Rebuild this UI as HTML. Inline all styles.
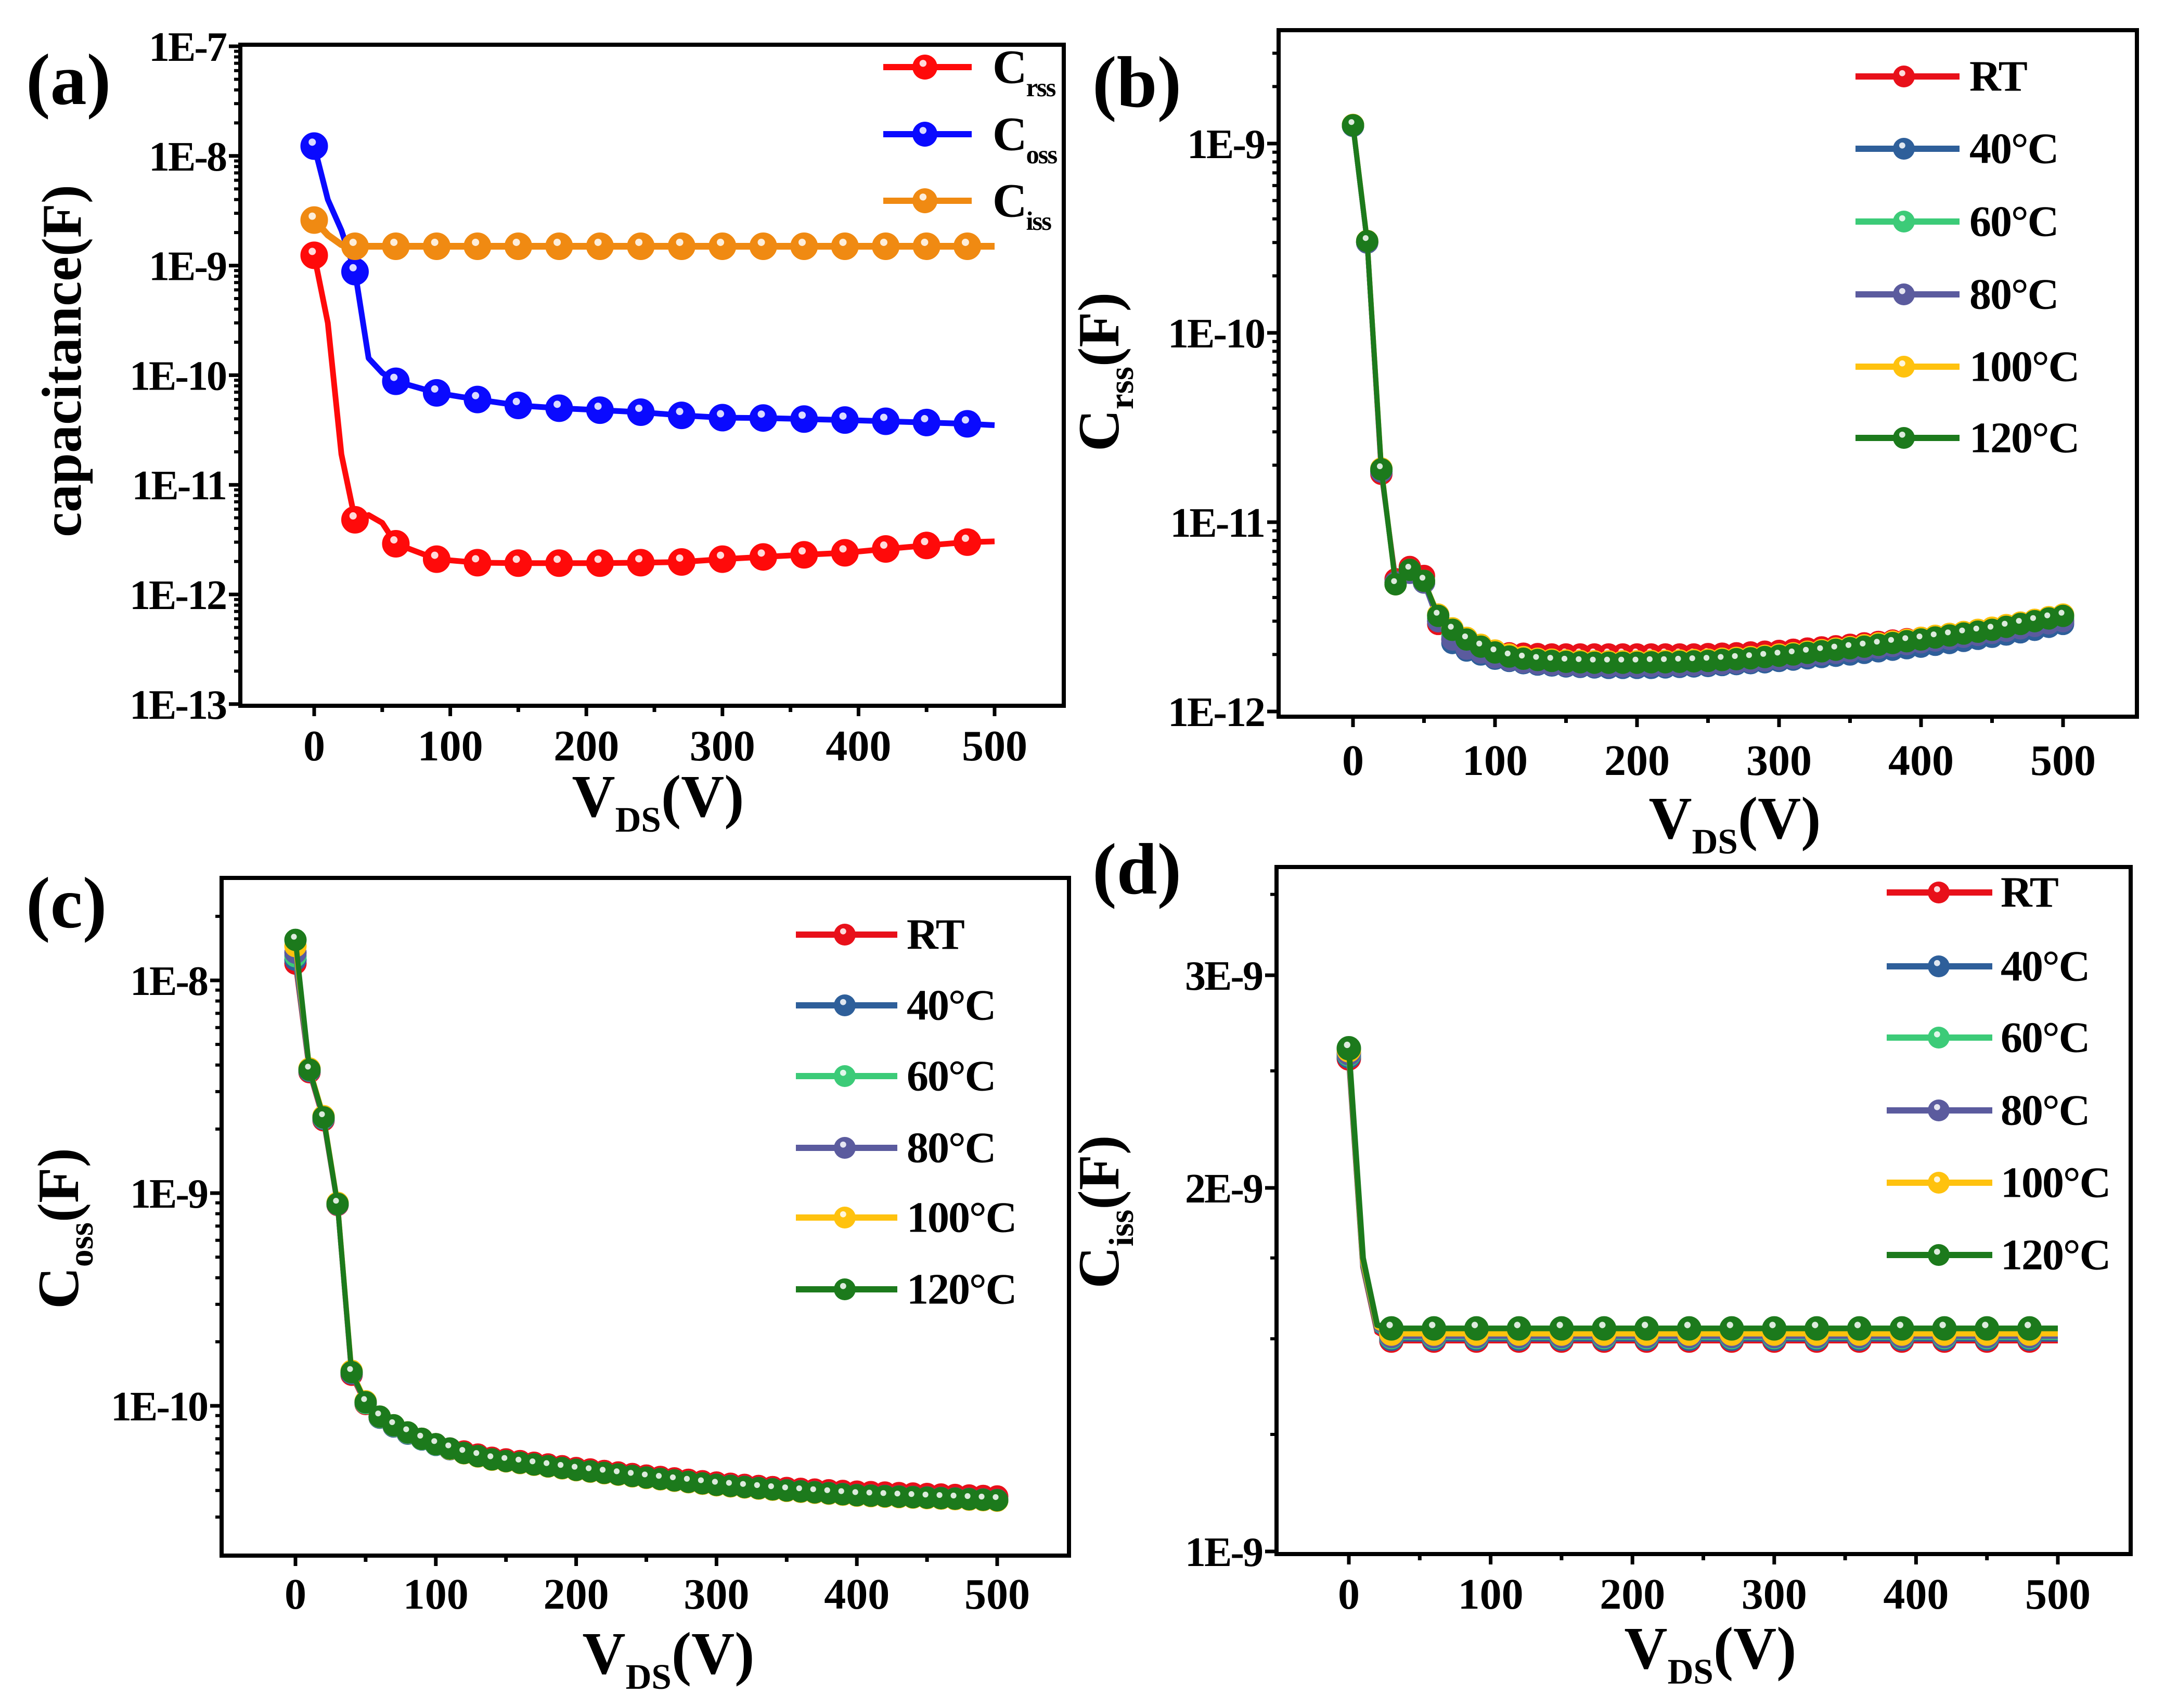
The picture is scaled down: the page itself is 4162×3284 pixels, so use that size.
<!DOCTYPE html>
<html><head><meta charset="utf-8"><style>
html,body{margin:0;padding:0;background:#fff}
svg{display:block}
text{font-family:"Liberation Serif","Times New Roman",serif;font-weight:bold;fill:#000}
</style></head><body>
<svg id="fig" width="4162" height="3284" viewBox="0 0 4162 3284" xmlns="http://www.w3.org/2000/svg">
<rect x="0" y="0" width="4162" height="3284" fill="#fff"/>
</svg>
<script>
// ---------- data (values in pF) ----------
const aX = [0,10,20,30,40,50,60,90,120,150,180,210,240,270,300,330,360,390,420,450,480,500];
const aCrss = [1240,300,19,4.8,5.3,4.5,2.9,2.1,1.95,1.93,1.93,1.93,1.95,1.98,2.1,2.2,2.3,2.4,2.6,2.8,3.0,3.05];
const aCoss = [12300,4000,2100,880,143,105,88,69,60,53,50,48,46,43,41,40.7,39.8,39,38,37,36,35];
const aCiss = [2600,1900,1550,1500,1500,1500,1500,1500,1500,1500,1500,1500,1500,1500,1500,1500,1500,1500,1500,1500,1500,1500];

const bX = [0,10,20,30,40,50,60,70,80,90,100,110,120,130,140,150,160,170,180,190,200,210,220,230,240,250,260,270,280,290,300,310,320,330,340,350,360,370,380,390,400,410,420,430,440,450,460,470,480,490,500];
const bRT = [1250,300,18,5.0,5.8,5.2,2.9,2.4,2.2,2.1,2.05,2.03,2.02,2.01,2.0,2.0,2.0,2.0,2.0,2.0,2.0,2.0,2.0,2.0,2.0,2.01,2.02,2.03,2.05,2.07,2.09,2.12,2.15,2.18,2.21,2.25,2.29,2.33,2.37,2.41,2.45,2.5,2.55,2.6,2.65,2.7,2.76,2.82,2.88,2.94,3.0];
const b40 = [1240,300,18.5,4.8,5.5,4.8,3.0,2.3,2.1,2.0,1.9,1.85,1.8,1.77,1.75,1.73,1.72,1.71,1.7,1.7,1.7,1.7,1.71,1.72,1.73,1.74,1.76,1.78,1.8,1.82,1.85,1.88,1.91,1.94,1.97,2.0,2.04,2.08,2.12,2.16,2.2,2.25,2.3,2.36,2.42,2.48,2.55,2.62,2.7,2.8,2.9];
const b60 = [1245,302,18.8,4.8,5.5,4.8,3.1,2.5,2.25,2.1,1.97,1.9,1.85,1.82,1.8,1.78,1.77,1.76,1.76,1.76,1.76,1.77,1.77,1.78,1.79,1.8,1.82,1.84,1.86,1.89,1.92,1.95,1.99,2.03,2.07,2.11,2.15,2.2,2.25,2.3,2.35,2.41,2.47,2.53,2.59,2.65,2.73,2.81,2.9,3.0,3.1];
const b80 = [1245,302,18.6,4.8,5.4,4.8,3.0,2.4,2.15,2.05,1.93,1.87,1.82,1.79,1.77,1.75,1.74,1.73,1.73,1.73,1.73,1.74,1.74,1.75,1.76,1.77,1.79,1.81,1.83,1.86,1.89,1.92,1.96,2.0,2.04,2.08,2.12,2.17,2.22,2.27,2.32,2.37,2.42,2.48,2.54,2.6,2.67,2.75,2.83,2.92,3.0];
const b100 = [1255,306,19.2,4.7,5.6,4.9,3.25,2.75,2.45,2.25,2.1,2.0,1.94,1.9,1.88,1.86,1.85,1.84,1.84,1.84,1.84,1.85,1.85,1.86,1.87,1.88,1.9,1.92,1.94,1.97,2.0,2.03,2.07,2.11,2.15,2.19,2.24,2.29,2.34,2.39,2.45,2.51,2.57,2.63,2.7,2.77,2.86,2.95,3.05,3.15,3.25];
const b120 = [1250,305,19,4.7,5.6,4.9,3.2,2.7,2.4,2.2,2.05,1.95,1.9,1.87,1.85,1.83,1.82,1.81,1.81,1.81,1.81,1.82,1.82,1.83,1.84,1.85,1.87,1.89,1.91,1.94,1.97,2.0,2.04,2.08,2.12,2.16,2.2,2.25,2.3,2.35,2.4,2.46,2.52,2.58,2.64,2.7,2.8,2.9,3.0,3.1,3.2];

const cX = bX;
const cRT = [12000,3700,2200,880,140,102,88,80,74,70,66,63,61,59,57,56,55,54,53,52,51,50.2,49.4,48.6,47.8,47,46.3,45.6,44.9,44.2,43.6,43,42.5,42,41.5,41.1,40.7,40.4,40.1,39.8,39.5,39.3,39.1,38.9,38.7,38.5,38.3,38.1,37.9,37.7,37.5];
const c40 = [12500,3750,2230,885,142,103,88,80,74,69.5,65.5,62.5,60,58,56,55,54,53,52,51,50,49.2,48.4,47.6,46.8,46,45.3,44.6,43.9,43.2,42.6,42.1,41.6,41.1,40.6,40.1,39.7,39.3,38.9,38.5,38.1,37.9,37.7,37.5,37.3,37.1,36.9,36.7,36.5,36.3,36.1];
const c60 = [13000,3780,2250,888,143,103,88.5,80.5,74.5,69.8,65.8,62.8,60,58,56,55,54,53,52,51,50,49.2,48.4,47.6,46.8,46,45.3,44.6,43.9,43.2,42.5,42,41.5,41,40.5,40,39.6,39.2,38.8,38.4,38,37.8,37.6,37.4,37.2,37,36.8,36.6,36.4,36.2,36];
const c80 = [13500,3790,2260,889,143,104,88.8,80.8,74.8,70,66,62.9,60,58,56,55,54,53,52,51,50,49.2,48.4,47.6,46.8,46,45.3,44.6,43.9,43.2,42.5,42,41.5,41,40.5,40,39.6,39.2,38.8,38.4,38,37.8,37.6,37.4,37.2,37,36.8,36.6,36.4,36.2,36];
const c100 = [14500,3850,2300,900,146,105,89,81,75,70,66,62.8,59.8,57.8,55.8,54.8,53.8,52.8,51.8,50.8,49.8,49,48.2,47.4,46.6,45.8,45.1,44.4,43.7,43,42.3,41.8,41.3,40.8,40.3,39.8,39.4,39,38.6,38.2,37.8,37.6,37.4,37.2,37,36.8,36.6,36.4,36.2,36,35.8];
const c120 = [15500,3800,2270,890,144,104,89,81,75,70,66,63,60,58,56,55,54,53,52,51,50,49.2,48.4,47.6,46.8,46,45.3,44.6,43.9,43.2,42.5,42,41.5,41,40.5,40,39.6,39.2,38.8,38.4,38,37.8,37.6,37.4,37.2,37,36.8,36.6,36.4,36.2,36];

const dX = [0,10,20,30,60,90,120,150,180,210,240,270,300,330,360,390,420,450,480,500];
const dRT = [2560,1720,1520,1495,1495,1495,1495,1495,1495,1495,1495,1495,1495,1495,1495,1495,1495,1495,1495,1495];
const d40 = [2570,1725,1525,1500,1500,1500,1500,1500,1500,1500,1500,1500,1500,1500,1500,1500,1500,1500,1500,1500];
const d60 = [2580,1730,1528,1505,1505,1505,1505,1505,1505,1505,1505,1505,1505,1505,1505,1505,1505,1505,1505,1505];
const d80 = [2585,1735,1530,1508,1508,1508,1508,1508,1508,1508,1508,1508,1508,1508,1508,1508,1508,1508,1508,1508];
const d100 = [2600,1740,1535,1515,1515,1515,1515,1515,1515,1515,1515,1515,1515,1515,1515,1515,1515,1515,1515,1515];
const d120 = [2610,1750,1540,1530,1530,1530,1530,1530,1530,1530,1530,1530,1530,1530,1530,1530,1530,1530,1530,1530];

const xTickVals = [0,100,200,300,400,500];
const aYTicks = [-7,-8,-9,-10,-11,-12,-13];
const bYTicks = [-9,-10,-11,-12];
const cYTicks = [-8,-9,-10];
const dYTickVals = [1,2,3];
const tempNames = ["RT","40°C","60°C","80°C","100°C","120°C"];
const tempColors = ["#e8101a","#2e5f9a","#3ccb78","#5b5b9e","#ffc20e","#1c7a1c"];

// ---------- drawing ----------
const NS = "http://www.w3.org/2000/svg";
const svg = document.getElementById("fig");
function mk(tag, attrs, parent){
  const e = document.createElementNS(NS, tag);
  for (const k in attrs) e.setAttribute(k, attrs[k]);
  (parent||svg).appendChild(e);
  return e;
}

function makePanel(id, P){
  const g = mk("g", {});
  
  
  P.g = g;
  P.x = v => P.x0 + (P.x500 - P.x0) * v / 500;
  P.y = pf => P.yRef - (Math.log10(pf * 1e-12) - P.logRef) * P.dec;
  const box = mk("rect", {x:P.L, y:P.T, width:P.R-P.L, height:P.B-P.T, fill:"none", stroke:"#000", "stroke-width":8}, g);
  
  
  for (let v = 0; v <= 500; v += 50) {
    const major = v % 100 === 0;
    mk("line", {x1:P.x(v), x2:P.x(v), y1:P.B, y2:P.B + (major?20:12), stroke:"#000", "stroke-width":7}, g);
  }
  xTickVals.forEach(v => {
    const t = mk("text", {x:P.x(v), y:P.B + P.xLabOff, "text-anchor":"middle", "font-size":84}, g);
    t.textContent = String(v);
    
    
  });
  return P;
}
function yTickLog(P, exps){
  exps.forEach(e => {
    const yy = P.y(Math.pow(10, e + 12));
    mk("line", {x1:P.L - 22, x2:P.L, y1:yy, y2:yy, stroke:"#000", "stroke-width":7}, P.g);
    const t = mk("text", {x:P.L - 28, y:yy + 28, "text-anchor":"end", "font-size":80, "letter-spacing":-3}, P.g);
    t.textContent = "1E" + e;
    
    
  });
}
function yMinor(P, lo, hi){
  for (let e = lo; e < hi; e++) for (let m = 2; m <= 9; m++) {
    const yy = P.y(m * Math.pow(10, e + 12));
    if (yy > P.T + 4 && yy < P.B - 4) mk("line", {x1:P.L - 12, x2:P.L, y1:yy, y2:yy, stroke:"#000", "stroke-width":6}, P.g);
  }
}
function series(P, xs, ys, color, r, markerFn, name, lw){
  const sg = mk("g", {}, P.g);
  
  
  const pts = xs.map((x, i) => P.x(x).toFixed(1) + "," + P.y(ys[i]).toFixed(1)).join(" ");
  mk("polyline", {points:pts, fill:"none", stroke:color, "stroke-width":lw||10, "stroke-linejoin":"round"}, sg);
  xs.forEach((x, i) => {
    if (!markerFn(x)) return;
    const cx = P.x(x), cy = P.y(ys[i]);
    const c = mk("circle", {cx:cx, cy:cy, r:r, fill:color, stroke:color, "stroke-width":3}, sg);
    
    
    mk("circle", {cx:cx - r*0.15, cy:cy - r*0.3, r:r*0.28, fill:"#fff", opacity:0.85}, sg);
  });
}
function legendRow(P, x1, x2, xm, yy, color, r, tx, label, sub, fs){
  const lg = mk("g", {}, P.g);
  
  
  mk("line", {x1:x1, x2:x2, y1:yy, y2:yy, stroke:color, "stroke-width":12}, lg);
  mk("circle", {cx:xm, cy:yy, r:r, fill:color}, lg);
  mk("circle", {cx:xm - r*0.15, cy:yy - r*0.3, r:r*0.28, fill:"#fff", opacity:0.85}, lg);
  const t = mk("text", {x:tx, y:yy + fs*0.33, "font-size":fs, "letter-spacing":-2}, lg);
  t.textContent = label;
  if (sub) {
    const s = mk("tspan", {"font-size":fs*0.55, dy:fs*0.28}, t);
    s.textContent = sub;
  }
}
function text(x, y, s, fs, name, anchor, rot){
  const t = mk("text", {x:x, y:y, "font-size":fs, "text-anchor":anchor||"start"});
  if (rot) t.setAttribute("transform", `rotate(-90 ${x} ${y})`);
  t.textContent = s;
  
  
  return t;
}
function titleWithSub(x, y, main, sub, tail, fs, name, rot){
  const t = mk("text", {x:x, y:y, "font-size":fs, "text-anchor":"middle"});
  if (rot) t.setAttribute("transform", `rotate(-90 ${x} ${y})`);
  
  
  const a = mk("tspan", {}, t); a.textContent = main;
  const b = mk("tspan", {"font-size":fs*0.6, dy:fs*0.25}, t); b.textContent = sub;
  const c = mk("tspan", {dy:-fs*0.25}, t); c.textContent = tail;
  return t;
}

// Panel (a)
const A = makePanel("panel-a", {L:462,R:2045,T:86,B:1357,x0:604,x500:1912,yRef:89,logRef:-7,dec:210.8,xLabOff:105});
yMinor(A, -13, -7);
yTickLog(A, aYTicks);
const m30 = x => x % 30 === 0 && x <= 480;
series(A, aX, aCrss, "#ff0a0a", 25, m30, "series-crss", 11);
series(A, aX, aCoss, "#0a0aff", 25, m30, "series-coss", 11);
series(A, aX, aCiss, "#f08a12", 25, m30, "series-ciss", 13);
legendRow(A, 1698, 1868, 1778, 129, "#ff0a0a", 24, 1908, "C", "rss", 92);
legendRow(A, 1698, 1868, 1778, 258, "#0a0aff", 24, 1908, "C", "oss", 92);
legendRow(A, 1698, 1868, 1778, 386, "#f08a12", 24, 1908, "C", "iss", 92);
text(155, 694, "capacitance(F)", 108, "y-axis-title", "middle", true);
titleWithSub(1265, 1570, "V", "DS", "(V)", 115, "x-axis-title");
text(50, 200, "(a)", 140, "panel-label-a");

// Panel (b)
const B = makePanel("panel-b", {L:2458,R:4108,T:58,B:1378,x0:2601,x500:3966,yRef:276,logRef:-9,dec:364,xLabOff:112});
yMinor(B, -12, -8);
yTickLog(B, bYTicks);
const all = x => true;
const bData = [bRT,b40,b60,b80,b100,b120];
bData.forEach((d, i) => series(B, bX, d, tempColors[i], 20, all, "series-" + tempNames[i]));
const bRows = [147,286,426,566,705,842];
bRows.forEach((yy, i) => legendRow(B, 3567, 3767, 3660, yy, tempColors[i], 21, 3786, tempNames[i], null, 84));
titleWithSub(2150, 715, "C", "rss", "(F)", 112, "y-axis-title", true);
titleWithSub(3335, 1612, "V", "DS", "(V)", 115, "x-axis-title");
text(2100, 205, "(b)", 140, "panel-label-b");

// Panel (c)
const C = makePanel("panel-c", {L:426,R:2055,T:1688,B:2991,x0:568,x500:1917,yRef:1885,logRef:-8,dec:409,xLabOff:102});
yMinor(C, -11, -7);
yTickLog(C, cYTicks);
const cData = [cRT,c40,c60,c80,c100,c120];
cData.forEach((d, i) => series(C, cX, d, tempColors[i], 20, all, "series-" + tempNames[i]));
const cRows = [1797,1933,2069,2207,2341,2479];
cRows.forEach((yy, i) => legendRow(C, 1530, 1725, 1624, yy, tempColors[i], 21, 1743, tempNames[i], null, 84));
titleWithSub(150, 2362, "C", "oss", "(F)", 112, "y-axis-title", true);
titleWithSub(1285, 3218, "V", "DS", "(V)", 115, "x-axis-title");
text(50, 1783, "(c)", 140, "panel-label-c");

// Panel (d)
const D = makePanel("panel-d", {L:2454,R:4096,T:1667,B:2988,x0:2593,x500:3956,yRef:2983,logRef:-9,dec:2322,xLabOff:105});
[1.25,1.5,1.75,2.5,3.5].forEach(m => {
  const yy = D.y(m * 1000);
  mk("line", {x1:D.L - 12, x2:D.L, y1:yy, y2:yy, stroke:"#000", "stroke-width":6}, D.g);
});
dYTickVals.forEach(m => {
  const yy = D.y(m * 1000);
  mk("line", {x1:D.L - 22, x2:D.L, y1:yy, y2:yy, stroke:"#000", "stroke-width":7}, D.g);
  const t = mk("text", {x:D.L - 28, y:yy + 28, "text-anchor":"end", "font-size":80, "letter-spacing":-3}, D.g);
  t.textContent = m + "E-9";
  
  
});
const dData = [dRT,d40,d60,d80,d100,d120];
dData.forEach((d, i) => series(D, dX, d, tempColors[i], 22, m30, "series-" + tempNames[i], 11));
const dRows = [1716,1858,1995,2135,2274,2413];
dRows.forEach((yy, i) => legendRow(D, 3627, 3830, 3727, yy, tempColors[i], 21, 3846, tempNames[i], null, 84));
titleWithSub(2150, 2330, "C", "iss", "(F)", 112, "y-axis-title", true);
titleWithSub(3288, 3208, "V", "DS", "(V)", 115, "x-axis-title");
text(2100, 1718, "(d)", 140, "panel-label-d");
</script>
</body></html>
